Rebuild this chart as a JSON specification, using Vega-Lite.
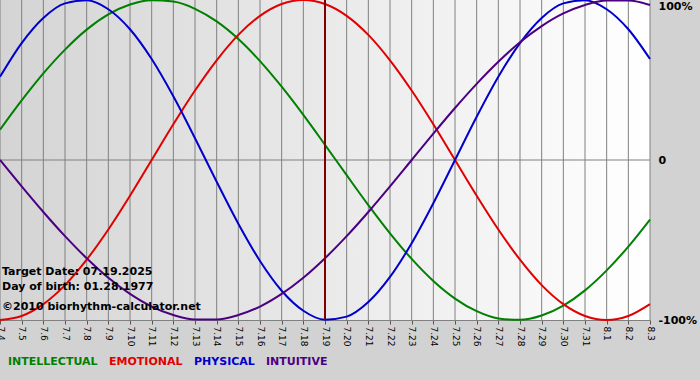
{
  "$schema": "https://vega.github.io/schema/vega-lite/v6.json",
  "width": 650,
  "height": 320,
  "autosize": {"type": "none"},
  "padding": {"left": 0, "top": 0, "right": 50, "bottom": 60},
  "background": "#d2d2d2",
  "config": {"view": {"stroke": null}, "font": "DejaVu Sans"},
  "data": {
    "values": [
      {"date": "2025-07-04", "INTELLECTUAL": 18.9, "EMOTIONAL": -100, "PHYSICAL": 52.0, "INTUITIVE": 0},
      {"date": "2025-07-05", "INTELLECTUAL": 37.2, "EMOTIONAL": -97.5, "PHYSICAL": 73.1, "INTUITIVE": -16.5},
      {"date": "2025-07-06", "INTELLECTUAL": 54.1, "EMOTIONAL": -90.1, "PHYSICAL": 88.8, "INTUITIVE": -32.5},
      {"date": "2025-07-07", "INTELLECTUAL": 69.0, "EMOTIONAL": -78.2, "PHYSICAL": 97.9, "INTUITIVE": -47.6},
      {"date": "2025-07-08", "INTELLECTUAL": 81.5, "EMOTIONAL": -62.3, "PHYSICAL": 99.8, "INTUITIVE": -61.4},
      {"date": "2025-07-09", "INTELLECTUAL": 91.0, "EMOTIONAL": -43.4, "PHYSICAL": 94.2, "INTUITIVE": -73.6},
      {"date": "2025-07-10", "INTELLECTUAL": 97.2, "EMOTIONAL": -22.3, "PHYSICAL": 81.7, "INTUITIVE": -83.7},
      {"date": "2025-07-11", "INTELLECTUAL": 99.9, "EMOTIONAL": 0, "PHYSICAL": 63.1, "INTUITIVE": -91.6},
      {"date": "2025-07-12", "INTELLECTUAL": 99.0, "EMOTIONAL": 22.3, "PHYSICAL": 39.8, "INTUITIVE": -96.9},
      {"date": "2025-07-13", "INTELLECTUAL": 94.5, "EMOTIONAL": 43.4, "PHYSICAL": 13.6, "INTUITIVE": -99.7},
      {"date": "2025-07-14", "INTELLECTUAL": 86.6, "EMOTIONAL": 62.3, "PHYSICAL": -13.6, "INTUITIVE": -99.7},
      {"date": "2025-07-15", "INTELLECTUAL": 75.6, "EMOTIONAL": 78.2, "PHYSICAL": -39.8, "INTUITIVE": -96.9},
      {"date": "2025-07-16", "INTELLECTUAL": 61.8, "EMOTIONAL": 90.1, "PHYSICAL": -63.1, "INTUITIVE": -91.6},
      {"date": "2025-07-17", "INTELLECTUAL": 45.8, "EMOTIONAL": 97.5, "PHYSICAL": -81.7, "INTUITIVE": -83.7},
      {"date": "2025-07-18", "INTELLECTUAL": 28.2, "EMOTIONAL": 100, "PHYSICAL": -94.2, "INTUITIVE": -73.6},
      {"date": "2025-07-19", "INTELLECTUAL": 9.5, "EMOTIONAL": 97.5, "PHYSICAL": -99.8, "INTUITIVE": -61.4},
      {"date": "2025-07-20", "INTELLECTUAL": -9.5, "EMOTIONAL": 90.1, "PHYSICAL": -97.9, "INTUITIVE": -47.6},
      {"date": "2025-07-21", "INTELLECTUAL": -28.2, "EMOTIONAL": 78.2, "PHYSICAL": -88.8, "INTUITIVE": -32.5},
      {"date": "2025-07-22", "INTELLECTUAL": -45.8, "EMOTIONAL": 62.3, "PHYSICAL": -73.1, "INTUITIVE": -16.5},
      {"date": "2025-07-23", "INTELLECTUAL": -61.8, "EMOTIONAL": 43.4, "PHYSICAL": -52.0, "INTUITIVE": 0},
      {"date": "2025-07-24", "INTELLECTUAL": -75.6, "EMOTIONAL": 22.3, "PHYSICAL": -27.0, "INTUITIVE": 16.5},
      {"date": "2025-07-25", "INTELLECTUAL": -86.6, "EMOTIONAL": 0, "PHYSICAL": 0, "INTUITIVE": 32.5},
      {"date": "2025-07-26", "INTELLECTUAL": -94.5, "EMOTIONAL": -22.3, "PHYSICAL": 27.0, "INTUITIVE": 47.6},
      {"date": "2025-07-27", "INTELLECTUAL": -99.0, "EMOTIONAL": -43.4, "PHYSICAL": 52.0, "INTUITIVE": 61.4},
      {"date": "2025-07-28", "INTELLECTUAL": -99.9, "EMOTIONAL": -62.3, "PHYSICAL": 73.1, "INTUITIVE": 73.6},
      {"date": "2025-07-29", "INTELLECTUAL": -97.2, "EMOTIONAL": -78.2, "PHYSICAL": 88.8, "INTUITIVE": 83.7},
      {"date": "2025-07-30", "INTELLECTUAL": -91.0, "EMOTIONAL": -90.1, "PHYSICAL": 97.9, "INTUITIVE": 91.6},
      {"date": "2025-07-31", "INTELLECTUAL": -81.5, "EMOTIONAL": -97.5, "PHYSICAL": 99.8, "INTUITIVE": 96.9},
      {"date": "2025-08-01", "INTELLECTUAL": -69.0, "EMOTIONAL": -100, "PHYSICAL": 94.2, "INTUITIVE": 99.7},
      {"date": "2025-08-02", "INTELLECTUAL": -54.1, "EMOTIONAL": -97.5, "PHYSICAL": 81.7, "INTUITIVE": 99.7},
      {"date": "2025-08-03", "INTELLECTUAL": -37.2, "EMOTIONAL": -90.1, "PHYSICAL": 63.1, "INTUITIVE": 96.9}
    ]
  },
  "layer": [
    {
      "data": {"values": [{"area": "plot"}]},
      "mark": {
        "type": "rect",
        "color": {
          "gradient": "linear",
          "x1": 0, "y1": 0, "x2": 1, "y2": 0,
          "stops": [
            {"offset": 0, "color": "#d4d4d4"},
            {"offset": 1, "color": "#ffffff"}
          ]
        }
      },
      "encoding": {}
    },
    {
      "mark": {"type": "rule", "color": "#808080", "strokeWidth": 1},
      "encoding": {
        "x": {
          "field": "date",
          "type": "temporal",
          "scale": {
            "type": "utc",
            "domain": [
              {"year": 2025, "month": 7, "date": 4, "utc": true},
              {"year": 2025, "month": 8, "date": 3, "utc": true}
            ],
            "nice": false
          },
          "axis": {
            "title": null,
            "format": "%-m.%-d",
            "tickCount": {"interval": "day", "step": 1},
            "labelAngle": 90,
            "labelAlign": "left",
            "labelBaseline": "middle",
            "labelFontSize": 9,
            "labelColor": "#000000",
            "labelPadding": 2,
            "tickSize": 4,
            "tickColor": "#555555",
            "domainColor": "#808080",
            "grid": false,
            "labelOverlap": false,
            "labelFlush": false,
            "labelBound": false
          }
        }
      }
    },
    {
      "data": {"values": [{"area": "zero"}]},
      "mark": {"type": "rule", "color": "#808080", "strokeWidth": 1},
      "encoding": {
        "y": {"datum": 0, "type": "quantitative"}
      }
    },
    {
      "transform": [
        {"fold": ["INTELLECTUAL", "EMOTIONAL", "PHYSICAL", "INTUITIVE"], "as": ["cycle", "value"]}
      ],
      "mark": {"type": "line", "strokeWidth": 2, "interpolate": "monotone"},
      "encoding": {
        "x": {"field": "date", "type": "temporal"},
        "y": {
          "field": "value",
          "type": "quantitative",
          "scale": {"domain": [-100, 100], "nice": false, "zero": false},
          "axis": {
            "orient": "right",
            "values": [-100, 0, 100],
            "labelExpr": "datum.value == 0 ? '0' : datum.value + '%'",
            "title": null,
            "domain": false,
            "ticks": false,
            "grid": false,
            "labelFontSize": 11,
            "labelFontWeight": "bold",
            "labelColor": "#000000",
            "labelPadding": 8,
            "labelFlush": false,
            "labelBaseline": {"condition": {"test": "datum.value == 100", "value": "top"}, "value": "middle"}
          }
        },
        "color": {
          "field": "cycle",
          "type": "nominal",
          "scale": {
            "domain": ["INTELLECTUAL", "EMOTIONAL", "PHYSICAL", "INTUITIVE"],
            "range": ["#008000", "#e00000", "#0000cc", "#4b0082"]
          },
          "legend": {
            "orient": "none",
            "legendX": -3,
            "legendY": 356,
            "padding": 0,
            "direction": "horizontal",
            "columns": 4,
            "title": null,
            "symbolSize": 0,
            "symbolStrokeWidth": 0,
            "symbolOpacity": 0,
            "labelOffset": 0,
            "labelFontSize": 11,
            "labelFontWeight": "bold",
            "labelLimit": 0,
            "columnPadding": -2,
            "encode": {"labels": {"update": {"fill": {"scale": "color", "field": "value"}}}}
          }
        }
      }
    },
    {
      "data": {"values": [{"target": "2025-07-19"}]},
      "mark": {"type": "rule", "color": "#800000", "strokeWidth": 2},
      "encoding": {
        "x": {"field": "target", "type": "temporal"}
      }
    },
    {
      "data": {"values": [{"label": "Target Date: 07.19.2025"}]},
      "mark": {"type": "text", "align": "left", "baseline": "middle", "dx": 2, "fontSize": 11, "fontWeight": "bold", "color": "#000000"},
      "encoding": {
        "x": {"datum": {"year": 2025, "month": 7, "date": 4, "utc": true}, "type": "temporal"},
        "y": {"datum": -70, "type": "quantitative"},
        "text": {"field": "label"}
      }
    },
    {
      "data": {"values": [{"label": "Day of birth: 01.28.1977"}]},
      "mark": {"type": "text", "align": "left", "baseline": "middle", "dx": 2, "fontSize": 11, "fontWeight": "bold", "color": "#000000"},
      "encoding": {
        "x": {"datum": {"year": 2025, "month": 7, "date": 4, "utc": true}, "type": "temporal"},
        "y": {"datum": -79.4, "type": "quantitative"},
        "text": {"field": "label"}
      }
    },
    {
      "data": {"values": [{"label": "©2010 biorhythm-calculator.net"}]},
      "mark": {"type": "text", "align": "left", "baseline": "middle", "dx": 2, "fontSize": 11, "fontWeight": "bold", "color": "#000000"},
      "encoding": {
        "x": {"datum": {"year": 2025, "month": 7, "date": 4, "utc": true}, "type": "temporal"},
        "y": {"datum": -91.9, "type": "quantitative"},
        "text": {"field": "label"}
      }
    }
  ]
}
